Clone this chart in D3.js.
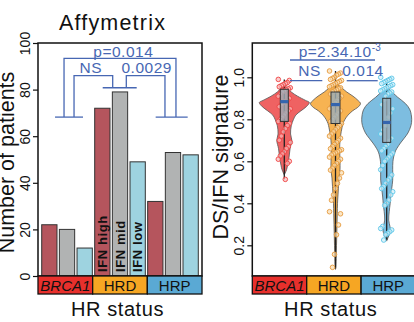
<!DOCTYPE html>
<html>
<head>
<meta charset="utf-8">
<script src="https://cdn.jsdelivr.net/npm/d3@7/dist/d3.min.js"></script>
<style>
  body { margin: 0; background: #fff; }
  svg { display: block; font-family: "Liberation Sans", Arial, sans-serif; }
</style>
</head>
<body>
<div id="chart"></div>
<script>
// ---- data ----
const groups = ["BRCA1", "HRD", "HRP"];
const levels = ["IFN high", "IFN mid", "IFN low"];
const brca1Counts = [22, 20, 12];
const hrdCounts = [72, 79, 49];
const hrpCounts = [32, 53, 52];
const countTicks = [0, 20, 40, 60, 80, 100];
const scoreTicks = [0.2, 0.4, 0.6, 0.8, 1.0];

// violin outlines: [signature value, relative half width]
const brca1Violin = [[0.965,0],[0.95,0.12],[0.93,0.28],[0.91,0.53],[0.89,0.85],[0.88,1],[0.86,0.88],[0.84,0.66],[0.82,0.46],[0.80,0.37],[0.77,0.28],[0.73,0.25],[0.70,0.3],[0.66,0.23],[0.62,0.19],[0.58,0.13],[0.56,0.09],[0.535,0]];
const hrdViolin = [[0.975,0],[0.95,0.25],[0.93,0.45],[0.91,0.7],[0.89,0.9],[0.875,1],[0.86,0.92],[0.84,0.68],[0.82,0.5],[0.80,0.38],[0.78,0.3],[0.76,0.26],[0.72,0.2],[0.68,0.17],[0.64,0.17],[0.60,0.18],[0.56,0.18],[0.52,0.14],[0.48,0.12],[0.44,0.1],[0.40,0.08],[0.35,0.07],[0.30,0.06],[0.25,0.05],[0.20,0.04],[0.15,0.03],[0.10,0.015],[0.085,0]];
const hrpViolin = [[0.955,0],[0.94,0.12],[0.925,0.26],[0.905,0.44],[0.875,0.75],[0.845,0.93],[0.80,1],[0.77,0.97],[0.735,0.85],[0.71,0.7],[0.687,0.55],[0.66,0.4],[0.64,0.32],[0.60,0.25],[0.56,0.24],[0.51,0.24],[0.47,0.2],[0.43,0.16],[0.40,0.14],[0.36,0.1],[0.32,0.08],[0.29,0.13],[0.27,0.15],[0.25,0.1],[0.23,0.03],[0.22,0]];

// box stats: [lower whisker, q1, median, q3, upper whisker]
const brca1Box = [0.515, 0.79, 0.884, 0.943, 0.99];
const hrdBox = [0.09, 0.78, 0.87, 0.93, 1.03];
const hrpBox = [0.225, 0.69, 0.785, 0.90, 0.99];

// jittered patients
const brca1Points = [0.99,0.985,0.975,0.97,0.965,0.96,0.955,0.95,0.945,0.94,0.935,0.93,0.92,0.91,0.90,0.89,0.885,0.88,0.87,0.86,0.85,0.84,0.83,0.82,0.81,0.80,0.79,0.78,0.77,0.755,0.74,0.72,0.70,0.69,0.67,0.66,0.645,0.635,0.625,0.61,0.60,0.59,0.514];
const hrdPoints = [1.03,1.02,1.015,1.01,1.0,0.995,0.99,0.985,0.98,0.975,0.97,0.965,0.96,0.955,0.95,0.945,0.94,0.935,0.93,0.92,0.91,0.90,0.89,0.88,0.87,0.86,0.85,0.84,0.83,0.82,0.81,0.80,0.79,0.78,0.77,0.76,0.75,0.74,0.73,0.72,0.71,0.70,0.69,0.68,0.67,0.66,0.655,0.65,0.645,0.64,0.635,0.63,0.62,0.61,0.60,0.59,0.58,0.567,0.558,0.545,0.52,0.495,0.47,0.44,0.415,0.36,0.35,0.297,0.25,0.157,0.095];
const hrpPoints = [1.0,0.995,0.99,0.985,0.98,0.975,0.97,0.965,0.96,0.955,0.95,0.945,0.94,0.935,0.93,0.925,0.92,0.91,0.89,0.87,0.85,0.83,0.81,0.79,0.77,0.75,0.73,0.71,0.70,0.68,0.67,0.66,0.65,0.64,0.63,0.62,0.61,0.60,0.58,0.56,0.535,0.52,0.51,0.495,0.48,0.47,0.455,0.44,0.415,0.40,0.39,0.29,0.28,0.273,0.265,0.257,0.25,0.225];

const counts = { BRCA1: brca1Counts, HRD: hrdCounts, HRP: hrpCounts };
const violins = { BRCA1: brca1Violin, HRD: hrdViolin, HRP: hrpViolin };
const boxes = { BRCA1: brca1Box, HRD: hrdBox, HRP: hrpBox };
const points = { BRCA1: brca1Points, HRD: hrdPoints, HRP: hrpPoints };

// ---- styling ----
const barColors = ["#b5555d", "#b1b3b3", "#9ed3e0"];
const stripColors = { BRCA1: "#e8302c", HRD: "#f6a623", HRP: "#5aa9d4" };
const violinColors = { BRCA1: "#ef6262", HRD: "#f7b352", HRP: "#7dbde0" };
const pointStroke = { BRCA1: "#ee4444", HRD: "#e59a3c", HRP: "#5cc6e8" };
const pointFill = { BRCA1: "#f9b9b9", HRD: "#f9dcae", HRP: "#cdeef9" };
const annot = "#4767b3";

const svg = d3.select("#chart").append("svg")
    .attr("width", 414)
    .attr("height", 322);

// ================= left panel: bar chart =================
const L = { left: 38, right: 202, top: 43, bottom: 276 };
const yL = d3.scaleLinear().domain([0, 100]).range([L.bottom, L.top]);
const xGroupL = d3.scaleBand().domain(groups).range([L.left, L.right]);
const barKeys = groups.flatMap(g => levels.map(l => g + "|" + l));
const xBar = d3.scaleBand().domain(barKeys).range([L.left, L.right])
    .paddingInner(0.134).paddingOuter(0.21);

const barData = groups.flatMap(g => levels.map((l, i) => ({ g, l, i, v: counts[g][i] })));

svg.append("g").selectAll("rect")
    .data(barData)
    .enter().append("rect")
    .attr("x", d => xBar(d.g + "|" + d.l))
    .attr("y", d => yL(d.v))
    .attr("width", xBar.bandwidth())
    .attr("height", d => yL(0) - yL(d.v))
    .attr("fill", d => barColors[d.i])
    .attr("stroke", "#333")
    .attr("stroke-width", 1);

// IFN labels inside HRD bars
svg.append("g").selectAll("text")
    .data(barData.filter(d => d.g === "HRD"))
    .enter().append("text")
    .attr("transform", d => `translate(${xBar(d.g + "|" + d.l) + xBar.bandwidth() / 2 + 4.5},${yL(0) - 4}) rotate(-90)`)
    .attr("font-size", "13px")
    .attr("font-weight", "bold")
    .attr("letter-spacing", "0.6px")
    .attr("fill", "#111")
    .text(d => d.l);

// frame
svg.append("rect")
    .attr("x", L.left).attr("y", L.top)
    .attr("width", L.right - L.left).attr("height", L.bottom - L.top)
    .attr("fill", "none").attr("stroke", "#111").attr("stroke-width", 1.5);

// y axis
const axL = svg.append("g")
    .attr("transform", `translate(${L.left},0)`)
    .call(d3.axisLeft(yL).tickValues(countTicks).tickSize(5).tickFormat(d3.format("d")));
axL.select(".domain").remove();
axL.selectAll("line").attr("stroke", "#111").attr("stroke-width", 1.2);
axL.selectAll("text")
    .attr("x", 0).attr("dy", 0)
    .attr("transform", "translate(-8,0) rotate(-90)")
    .attr("text-anchor", "middle")
    .attr("font-size", "14px")
    .attr("font-family", "Liberation Sans, Arial, sans-serif")
    .attr("fill", "#111");

svg.append("text")
    .attr("transform", `translate(14,${(L.top + L.bottom) / 2 + 3}) rotate(-90)`)
    .attr("text-anchor", "middle")
    .attr("font-size", "21.5px")
    .attr("fill", "#111")
    .text("Number of patients");

svg.append("text")
    .attr("x", 112.5).attr("y", 30)
    .attr("text-anchor", "middle")
    .attr("font-size", "21.5px")
    .attr("letter-spacing", "1.2px")
    .attr("fill", "#111")
    .text("Affymetrix");

// strip
function drawStrip(xb, y0) {
    const g = svg.append("g");
    g.selectAll("rect")
        .data(groups)
        .enter().append("rect")
        .attr("x", d => xb(d)).attr("y", y0)
        .attr("width", xb.bandwidth()).attr("height", 18)
        .attr("fill", d => stripColors[d])
        .attr("stroke", "#111").attr("stroke-width", 1.3);
    g.selectAll("text")
        .data(groups)
        .enter().append("text")
        .attr("x", d => xb(d) + xb.bandwidth() / 2)
        .attr("y", y0 + 14.5)
        .attr("text-anchor", "middle")
        .attr("font-size", "15px")
        .attr("font-style", d => d === "BRCA1" ? "italic" : "normal")
        .attr("fill", "#111")
        .text(d => d);
}
drawStrip(xGroupL, L.bottom);

svg.append("text")
    .attr("x", 117.5).attr("y", 315.5)
    .attr("text-anchor", "middle")
    .attr("font-size", "20px")
    .attr("letter-spacing", "0.6px")
    .attr("fill", "#111")
    .text("HR status");

// significance brackets (left)
const cx = g => xGroupL(g) + xGroupL.bandwidth() / 2;
const outerY = yL(93.4), innerY = yL(86), footSide = yL(68.2), footMid = yL(80.8);
const bracketPaths = [
    // feet
    [[cx("BRCA1") - 10.3, footSide], [cx("BRCA1") + 17.7, footSide]],
    [[cx("HRD") - 17.3, footMid], [cx("HRD") + 16.7, footMid]],
    [[cx("HRP") - 19, footSide], [cx("HRP") + 13, footSide]],
    // p=0.014 outer
    [[cx("BRCA1") - 1.3, footSide], [cx("BRCA1") - 1.3, outerY], [cx("HRP") + 1.3, outerY], [cx("HRP") + 1.3, footSide]],
    // NS
    [[cx("BRCA1") + 8.7, footSide], [cx("BRCA1") + 8.7, innerY], [cx("HRD") - 7.3, innerY], [cx("HRD") - 7.3, footMid]],
    // 0.0029
    [[cx("HRD") + 6.3, footMid], [cx("HRD") + 6.3, innerY], [cx("HRP") - 9.7, innerY], [cx("HRP") - 9.7, footSide]]
];
svg.append("g").selectAll("path")
    .data(bracketPaths)
    .enter().append("path")
    .attr("d", d3.line())
    .attr("fill", "none")
    .attr("stroke", annot)
    .attr("stroke-width", 1.3);

const leftLabels = [
    { t: "p=0.014", x: 123.3, y: outerY - 1.8 },
    { t: "NS", x: 90.8, y: innerY - 3 },
    { t: "0.0029", x: 146.7, y: innerY - 3 }
];
svg.append("g").selectAll("text")
    .data(leftLabels)
    .enter().append("text")
    .attr("x", d => d.x).attr("y", d => d.y)
    .attr("text-anchor", "middle")
    .attr("font-size", "15.5px")
    .attr("letter-spacing", "0.5px")
    .attr("fill", annot)
    .text(d => d.t);

// ================= right panel: violins =================
const R = { left: 252.3, right: 430, top: 43, bottom: 276 };
const yR = d3.scaleLinear().domain([0, 1]).range([287.3, 77.3]);
const xStrip = d3.scaleBand().domain(groups).range([252.3, 415.5]);
const xV = d3.scalePoint().domain(groups).range([284.3, 386.7]);
const wScale = d3.scaleLinear().domain([0, 1]).range([0, 25]);
const jitter = i => ((((i * 37) % 13) / 12) - 0.5) * 2;

groups.forEach(g => {
    const c = xV(g);
    const area = d3.area()
        .y(d => yR(d[0]))
        .x0(d => c - wScale(d[1]))
        .x1(d => c + wScale(d[1]))
        .curve(d3.curveCatmullRom);
    svg.append("path")
        .datum(violins[g])
        .attr("d", area)
        .attr("fill", violinColors[g])
        .attr("stroke", "#555")
        .attr("stroke-width", 0.8);

    const b = boxes[g];
    svg.append("line")
        .attr("x1", c).attr("x2", c)
        .attr("y1", yR(b[0])).attr("y2", yR(b[4]))
        .attr("stroke", "#222").attr("stroke-width", 1.3);

    svg.append("g").selectAll("circle")
        .data(points[g])
        .enter().append("circle")
        .attr("cx", (d, i) => c + jitter(i) * 6)
        .attr("cy", d => yR(d))
        .attr("r", 2.3)
        .attr("fill", pointFill[g])
        .attr("fill-opacity", 0.7)
        .attr("stroke", pointStroke[g])
        .attr("stroke-width", 0.9);

    const bw = g === "HRD" ? 9 : 8;
    svg.append("rect")
        .attr("x", c - bw / 2).attr("y", yR(b[3]))
        .attr("width", bw).attr("height", yR(b[1]) - yR(b[3]))
        .attr("fill", "#9eaeb8").attr("fill-opacity", 0.82)
        .attr("stroke", "#333").attr("stroke-width", 1);
    svg.append("line")
        .attr("x1", c - bw / 2).attr("x2", c + bw / 2)
        .attr("y1", yR(b[2])).attr("y2", yR(b[2]))
        .attr("stroke", "#3565ae").attr("stroke-width", 3.2);
});

svg.append("rect")
    .attr("x", R.left).attr("y", R.top)
    .attr("width", R.right - R.left).attr("height", R.bottom - R.top)
    .attr("fill", "none").attr("stroke", "#111").attr("stroke-width", 1.5);

const axR = svg.append("g")
    .attr("transform", `translate(${R.left},0)`)
    .call(d3.axisLeft(yR).tickValues(scoreTicks).tickSize(5).tickFormat(d3.format(".1f")));
axR.select(".domain").remove();
axR.selectAll("line").attr("stroke", "#111").attr("stroke-width", 1.2);
axR.selectAll("text")
    .attr("x", 0).attr("dy", 0)
    .attr("transform", "translate(-8.3,0) rotate(-90)")
    .attr("text-anchor", "middle")
    .attr("font-size", "14px")
    .attr("font-family", "Liberation Sans, Arial, sans-serif")
    .attr("fill", "#111");

svg.append("text")
    .attr("transform", `translate(228,157) rotate(-90)`)
    .attr("text-anchor", "middle")
    .attr("font-size", "21.5px")
    .attr("fill", "#111")
    .text("DS/IFN signature");

drawStrip(xStrip, R.bottom);

svg.append("text")
    .attr("x", 330.7).attr("y", 315.5)
    .attr("text-anchor", "middle")
    .attr("font-size", "20px")
    .attr("letter-spacing", "0.6px")
    .attr("fill", "#111")
    .text("HR status");

// significance (right)
const rightLines = [
    [[290, 60], [375, 60]],
    [[290, 80.7], [322.3, 80.7]],
    [[346.7, 80.7], [377.7, 80.7]]
];
svg.append("g").selectAll("path")
    .data(rightLines)
    .enter().append("path")
    .attr("d", d3.line())
    .attr("stroke", annot)
    .attr("stroke-width", 1.3);

const pText = svg.append("text")
    .attr("x", 340).attr("y", 56.5)
    .attr("text-anchor", "middle")
    .attr("font-size", "15.5px")
    .attr("letter-spacing", "0.4px")
    .attr("fill", annot);
pText.append("tspan").text("p=2.34.10");
pText.append("tspan").attr("dy", -6).attr("font-size", "10px").text("-3");

svg.append("g").selectAll("text")
    .data([{ t: "NS", x: 309.5 }, { t: "0.014", x: 363 }])
    .enter().append("text")
    .attr("x", d => d.x).attr("y", 76)
    .attr("text-anchor", "middle")
    .attr("font-size", "15.5px")
    .attr("letter-spacing", "0.5px")
    .attr("fill", annot)
    .text(d => d.t);
</script>
</body>
</html>
